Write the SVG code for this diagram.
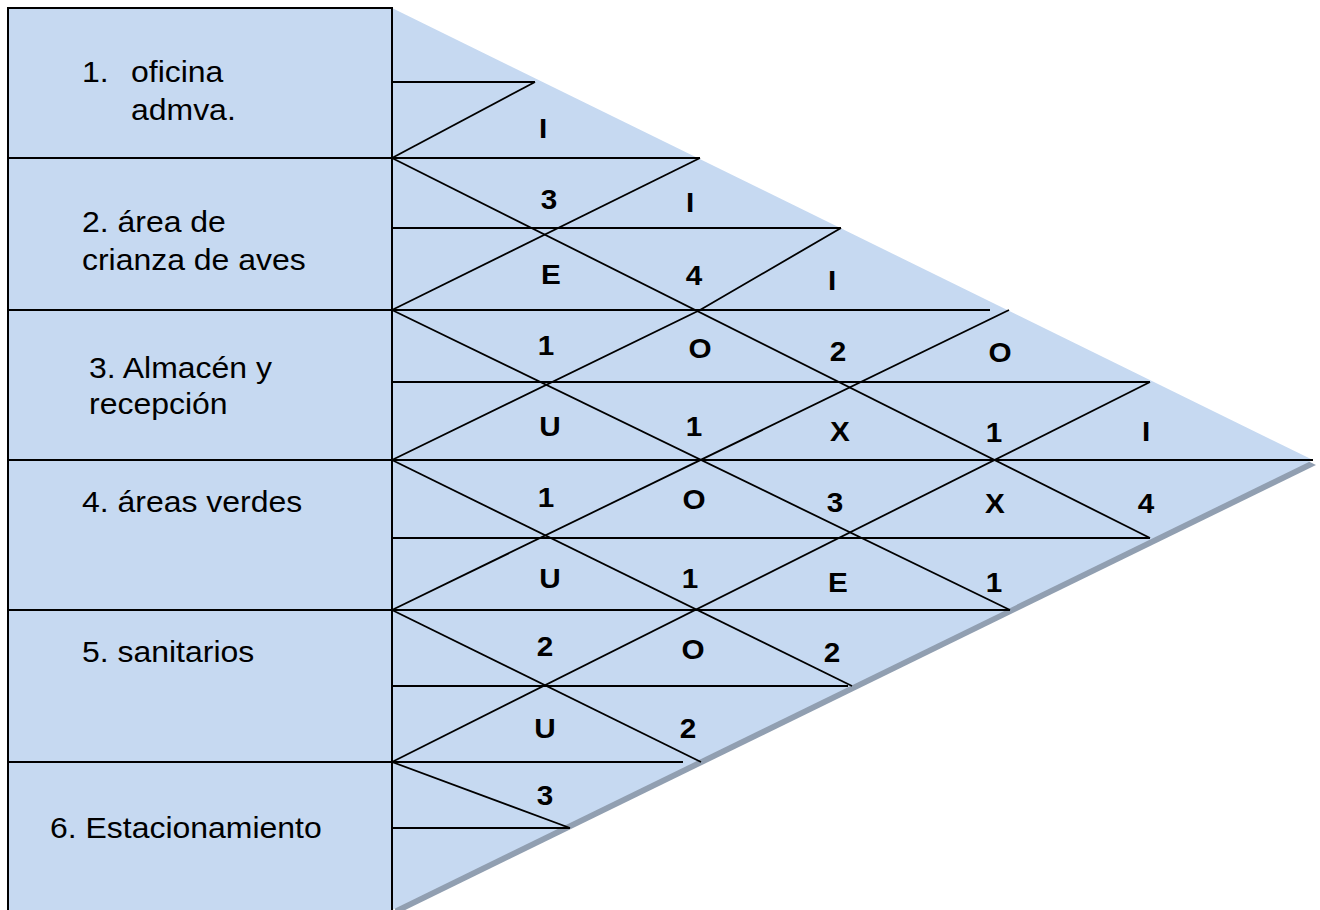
<svg xmlns="http://www.w3.org/2000/svg" width="1320" height="910" viewBox="0 0 1320 910">
  <style>
    .bg { fill: #C6D9F1; }
    .shadow { fill: #919FB1; }
    .box { fill: #C6D9F1; stroke: #000; stroke-width: 2; }
    .rowline { stroke: #000; stroke-width: 2; fill: none; }
    .ln { stroke: #000; stroke-width: 1.8; fill: none; }
    .lbl { font-family: "Liberation Sans", Arial, sans-serif; font-size: 30px; fill: #000; }
    .rel { font-family: "Liberation Sans", Arial, sans-serif; font-size: 28px; font-weight: bold; fill: #000; text-anchor: middle; }
  </style>
  <rect x="0" y="0" width="1320" height="910" fill="#fff"/>

  <!-- triangle with shadow -->
  <polygon class="shadow" points="395,13 1316,465 395,915"/>
  <polygon class="bg" points="392,8 1313,460 392,910"/>

  <!-- left column box -->
  <rect class="box" x="8" y="8" width="384" height="910"/>

  <!-- connectors / grid -->
  <g id="connectors">
    <line class="rowline" x1="8" y1="158" x2="392" y2="158"/>
    <line class="rowline" x1="8" y1="310" x2="392" y2="310"/>
    <line class="rowline" x1="8" y1="460" x2="392" y2="460"/>
    <line class="rowline" x1="8" y1="610" x2="392" y2="610"/>
    <line class="rowline" x1="8" y1="762" x2="392" y2="762"/>
    <line class="ln" x1="392" y1="82" x2="535" y2="82"/>
    <line class="ln" x1="392" y1="158" x2="700" y2="158"/>
    <line class="ln" x1="392" y1="228" x2="841" y2="228"/>
    <line class="ln" x1="392" y1="310" x2="990" y2="310"/>
    <line class="ln" x1="392" y1="382" x2="1150" y2="382"/>
    <line class="ln" x1="392" y1="460" x2="1313" y2="460"/>
    <line class="ln" x1="392" y1="538" x2="1150" y2="538"/>
    <line class="ln" x1="392" y1="610" x2="1010" y2="610"/>
    <line class="ln" x1="392" y1="686" x2="848" y2="686"/>
    <line class="ln" x1="392" y1="762" x2="683" y2="762"/>
    <line class="ln" x1="392" y1="828" x2="570" y2="828"/>
    <line class="ln" x1="392" y1="158" x2="1150" y2="538"/>
    <line class="ln" x1="392" y1="310" x2="1010" y2="610"/>
    <line class="ln" x1="392" y1="460" x2="852" y2="686"/>
    <line class="ln" x1="392" y1="610" x2="701" y2="762"/>
    <line class="ln" x1="392" y1="762" x2="570" y2="828"/>
    <line class="ln" x1="392" y1="158" x2="535" y2="82"/>
    <line class="ln" x1="392" y1="310" x2="700" y2="158"/>
    <polyline class="ln" points="392,460 700,310 841,228"/>
    <line class="ln" x1="392" y1="610" x2="1009" y2="310"/>
    <line class="ln" x1="392" y1="762" x2="1150" y2="382"/>
    <line class="rowline" x1="392" y1="8" x2="392" y2="910"/>
  </g>

  <!-- department nodes -->
  <g id="node-1">
    <text class="lbl" transform="translate(82,82) scale(1.065,1)">1.</text>
    <text class="lbl" transform="translate(131,82) scale(1.065,1)">oficina</text>
    <text class="lbl" transform="translate(131,120) scale(1.065,1)">admva.</text>
  </g>
  <g id="node-2">
    <text class="lbl" transform="translate(82,232) scale(1.065,1)">2. área de</text>
    <text class="lbl" transform="translate(82,270) scale(1.065,1)">crianza de aves</text>
  </g>
  <g id="node-3">
    <text class="lbl" transform="translate(89,378) scale(1.065,1)">3. Almacén y</text>
    <text class="lbl" transform="translate(89,414) scale(1.065,1)">recepción</text>
  </g>
  <g id="node-4">
    <text class="lbl" transform="translate(82,512) scale(1.065,1)">4. áreas verdes</text>
  </g>
  <g id="node-5">
    <text class="lbl" transform="translate(82,662) scale(1.065,1)">5. sanitarios</text>
  </g>
  <g id="node-6">
    <text class="lbl" transform="translate(50,838) scale(1.065,1)">6. Estacionamiento</text>
  </g>

  <!-- relationship ratings -->
  <g id="relations">
    <g id="rel-1-2"><text class="rel" transform="translate(543,138) scale(1.06,1)">I</text><text class="rel" transform="translate(549,209) scale(1.06,1)">3</text></g>
    <g id="rel-1-3"><text class="rel" transform="translate(690,212) scale(1.06,1)">I</text><text class="rel" transform="translate(694,285) scale(1.06,1)">4</text></g>
    <g id="rel-1-4"><text class="rel" transform="translate(832,290) scale(1.06,1)">I</text><text class="rel" transform="translate(838,361) scale(1.06,1)">2</text></g>
    <g id="rel-1-5"><text class="rel" transform="translate(1000,362) scale(1.06,1)">O</text><text class="rel" transform="translate(994,442) scale(1.06,1)">1</text></g>
    <g id="rel-1-6"><text class="rel" transform="translate(1146,441) scale(1.06,1)">I</text><text class="rel" transform="translate(1146,513) scale(1.06,1)">4</text></g>
    <g id="rel-2-3"><text class="rel" transform="translate(551,284) scale(1.06,1)">E</text><text class="rel" transform="translate(546,355) scale(1.06,1)">1</text></g>
    <g id="rel-2-4"><text class="rel" transform="translate(700,358) scale(1.06,1)">O</text><text class="rel" transform="translate(694,436) scale(1.06,1)">1</text></g>
    <g id="rel-2-5"><text class="rel" transform="translate(840,441) scale(1.06,1)">X</text><text class="rel" transform="translate(835,512) scale(1.06,1)">3</text></g>
    <g id="rel-2-6"><text class="rel" transform="translate(995,513) scale(1.06,1)">X</text><text class="rel" transform="translate(994,592) scale(1.06,1)">1</text></g>
    <g id="rel-3-4"><text class="rel" transform="translate(550,436) scale(1.06,1)">U</text><text class="rel" transform="translate(546,507) scale(1.06,1)">1</text></g>
    <g id="rel-3-5"><text class="rel" transform="translate(694,509) scale(1.06,1)">O</text><text class="rel" transform="translate(690,588) scale(1.06,1)">1</text></g>
    <g id="rel-3-6"><text class="rel" transform="translate(838,592) scale(1.06,1)">E</text><text class="rel" transform="translate(832,662) scale(1.06,1)">2</text></g>
    <g id="rel-4-5"><text class="rel" transform="translate(550,588) scale(1.06,1)">U</text><text class="rel" transform="translate(545,656) scale(1.06,1)">2</text></g>
    <g id="rel-4-6"><text class="rel" transform="translate(693,659) scale(1.06,1)">O</text><text class="rel" transform="translate(688,738) scale(1.06,1)">2</text></g>
    <g id="rel-5-6"><text class="rel" transform="translate(545,738) scale(1.06,1)">U</text><text class="rel" transform="translate(545,805) scale(1.06,1)">3</text></g>
  </g>
</svg>
